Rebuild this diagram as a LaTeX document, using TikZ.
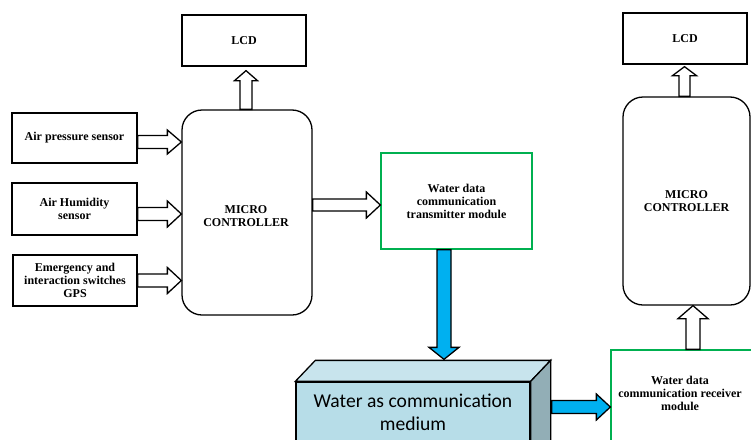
\documentclass[tikz,border=0pt]{standalone}
\usepackage{fontspec}
\setmainfont{Liberation Serif}[BoldFont={Liberation Serif Bold}]
\newfontfamily\calib{Carlito}
\usetikzlibrary{calc}
\definecolor{grn}{RGB}{0,176,80}
\definecolor{blu}{RGB}{0,176,240}
\definecolor{wfront}{RGB}{183,221,232}
\definecolor{wtopc}{RGB}{200,228,237}
\definecolor{wside}{RGB}{146,174,182}
\newcommand\harr[6]{\draw[#1] let \p1=(#2), \p2=(#3) in (\x1,\y1+#4pt) -- (\x2-#6pt,\y1+#4pt) -- (\x2-#6pt,\y1+#5pt) -- (\x2,\y1) -- (\x2-#6pt,\y1-#5pt) -- (\x2-#6pt,\y1-#4pt) -- (\x1,\y1-#4pt) -- cycle;}
\newcommand\uarr[6]{\draw[#1] let \p1=(#2), \p2=(#3) in (\x1-#4pt,\y1) -- (\x1-#4pt,\y2-#6pt) -- (\x1-#5pt,\y2-#6pt) -- (\x1,\y2) -- (\x1+#5pt,\y2-#6pt) -- (\x1+#4pt,\y2-#6pt) -- (\x1+#4pt,\y1) -- cycle;}
\newcommand\darr[6]{\draw[#1] let \p1=(#2), \p2=(#3) in (\x1-#4pt,\y1) -- (\x1-#4pt,\y2+#6pt) -- (\x1-#5pt,\y2+#6pt) -- (\x1,\y2) -- (\x1+#5pt,\y2+#6pt) -- (\x1+#4pt,\y2+#6pt) -- (\x1+#4pt,\y1) -- cycle;}
\begin{document}
\begin{tikzpicture}[x=1pt,y=-1pt,
  txt/.style={align=center, font=\fontsize{12}{13}\selectfont\bfseries},
  blk/.style={draw, line width=1.3pt, fill=white, inner sep=2pt, txt},
  gbox/.style={blk, draw=grn},
  mcbox/.style={blk, rounded corners=20pt},
  hollow/.style={draw, line width=1.3pt, fill=white, line join=miter},
  bluearr/.style={draw, line width=1.3pt, fill=blu, line join=miter}]
\useasboundingbox (0,0) rectangle (751,439);
\clip (0,0) rectangle (751,439);
% left side
\node[blk, minimum width=124pt, minimum height=51pt] (lcdA) at (244,40.5) {LCD};
\node[mcbox, minimum width=130pt, minimum height=205pt] (mcA) at (247,212.5) {};
\node[txt] (mcAtext) at ($(mcA.center)+(-1,3.5)$) {MICRO\\CONTROLLER};
\node[blk, minimum width=125pt, minimum height=50pt] (s1) at (74.5,138) {Air pressure sensor};
\node[blk, minimum width=125pt, minimum height=52pt] (s2) at (74.5,209) {Air Humidity\\sensor};
\node[blk, minimum width=124pt, minimum height=51pt] (s3) at (75,280.5) {Emergency and\\interaction switches\\GPS};
\node[gbox, minimum width=151pt, minimum height=96pt] (tx) at (456.5,201) {Water data\\communication\\transmitter module};
% water block
\node[draw, line width=1.3pt, fill=wfront, minimum width=234pt, minimum height=88pt, inner sep=0pt] (water) at (413,426) {};
\draw[line width=1.3pt, fill=wtopc, line join=miter] (water.north west) -- ++(20,-21) -- ($(water.north east)+(20,-21)$) -- (water.north east) -- cycle;
\draw[line width=1.3pt, fill=wside, line join=miter] (water.north east) -- ++(20,-21) -- ($(water.south east)+(20,-21)$) -- (water.south east) -- cycle;
\node[align=center, font=\calib\fontsize{19.6}{23}\selectfont] (wlabel) at (413,412) {Water as communication\\medium};
% right side
\node[gbox, minimum width=141pt, minimum height=120pt] (rx) at (681.5,410) {};
\node[txt] (rxlabel) at (680,393) {Water data\\communication receiver\\module};
\node[mcbox, minimum width=127pt, minimum height=208pt] (mcB) at (686.5,201) {MICRO\\CONTROLLER};
\node[blk, minimum width=124pt, minimum height=51pt] (lcdB) at (685,38.5) {LCD};
% arrows
\uarr{hollow}{$(mcA.north)+(-1,0)$}{$(lcdA.south)+(0,4)$}{6}{11.5}{10}
\harr{hollow}{$(s1.east)+(0,4)$}{mcA.west}{6.5}{12}{14}
\harr{hollow}{$(s2.east)+(0,5)$}{mcA.west}{6.5}{13}{14}
\harr{hollow}{s3.east}{mcA.west}{6.5}{13}{14}
\harr{hollow}{$(mcA.east)+(0,-7.5)$}{tx.west}{6}{13}{14}
\darr{bluearr}{$(tx.south)+(-12.5,0)$}{$(water.north)+(0,-22)$}{7}{15}{12}
\harr{bluearr}{$(water.east)+(21,-19)$}{rx.west}{6.5}{13}{14}
\uarr{hollow}{$(rx.north)+(11.5,0)$}{mcB.south}{7}{15}{13}
\uarr{hollow}{$(mcB.north)+(-2,0)$}{$(lcdB.south)+(0,2)$}{5.5}{12}{9}
\end{tikzpicture}
\end{document}
